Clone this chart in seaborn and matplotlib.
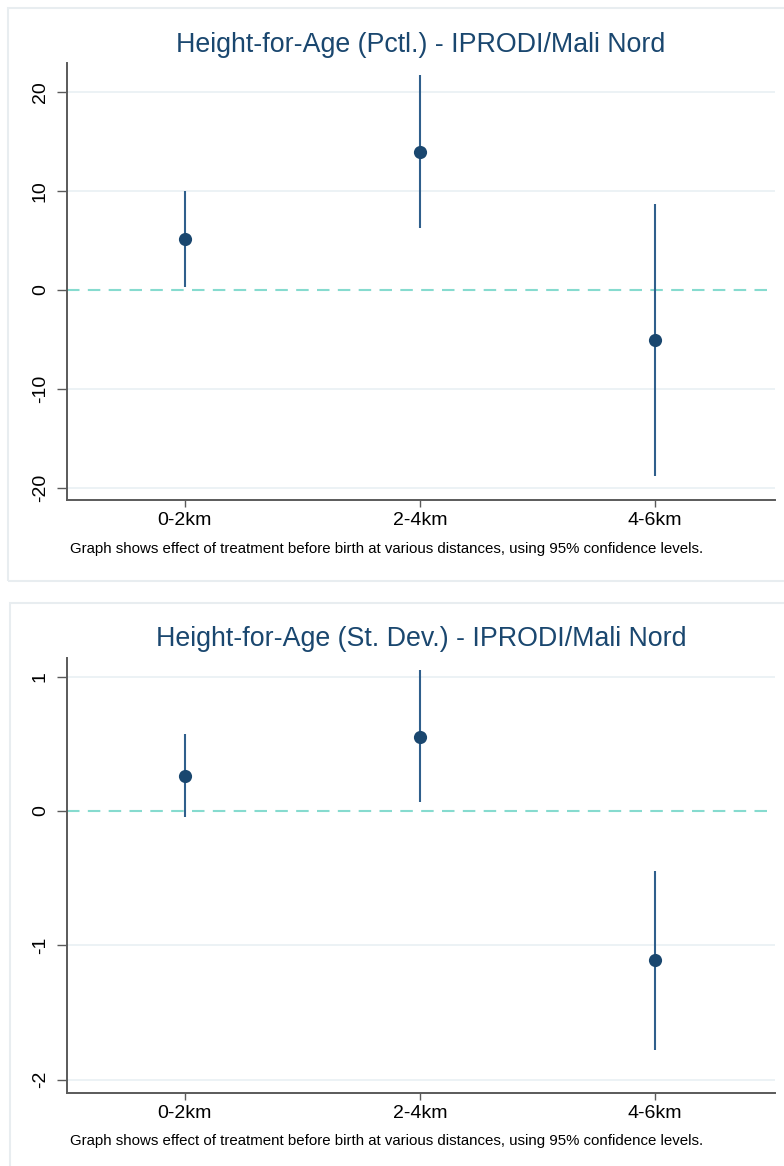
import matplotlib
matplotlib.use("Agg")
import matplotlib.pyplot as plt
import seaborn as sns
import pandas as pd
from matplotlib.patches import Rectangle

# ---- data ----
categories = ["0-2km", "2-4km", "4-6km"]

pctl_est = [5.15, 13.9, -5.05]
pctl_lo = [0.3, 6.2, -18.8]
pctl_hi = [10.0, 21.7, 8.7]

sd_est = [0.26, 0.55, -1.11]
sd_lo = [-0.045, 0.065, -1.78]
sd_hi = [0.575, 1.05, -0.45]

titles = ["Height-for-Age (Pctl.) - IPRODI/Mali Nord",
          "Height-for-Age (St. Dev.) - IPRODI/Mali Nord"]
caption = "Graph shows effect of treatment before birth at various distances, using 95% confidence levels."
pctl_ticks = [-20, -10, 0, 10, 20]
sd_ticks = [-2, -1, 0, 1]

sns.set_theme(style="white")
plt.rcParams['font.family'] = ['Liberation Sans', 'DejaVu Sans']

W, H = 784, 1166
fig = plt.figure(figsize=(W / 100, H / 100), dpi=100)
fig.patch.set_facecolor("white")

NAVY = "#1a476f"
CI_COL = "#2f5f8c"
TEAL = "#86dbcf"
GRID = "#e9f0f4"
SPINE = "#5a5a5a"
BORDER = "#e8edf0"

def px_rect(l, t, r, b):
    return [l / W, 1 - b / H, (r - l) / W, (b - t) / H]

# panel borders
fig.patches.append(Rectangle((8 / W, 1 - 581 / H), (W - 8 + 5) / W, (581 - 8) / H,
                             transform=fig.transFigure, fill=False,
                             edgecolor=BORDER, linewidth=1.5))
fig.patches.append(Rectangle((10 / W, -0.01), (W - 10 + 5) / W, (H - 603) / H + 0.01,
                             transform=fig.transFigure, fill=False,
                             edgecolor=BORDER, linewidth=1.5))

panels = [
    dict(est=pctl_est, lo=pctl_lo, hi=pctl_hi, ticks=pctl_ticks, ylim=(-21.2, 22.9),
         rect=px_rect(67, 63, 775, 500), title=titles[0], title_y=45, cap_y=549),
    dict(est=sd_est, lo=sd_lo, hi=sd_hi, ticks=sd_ticks, ylim=(-2.10, 1.14),
         rect=px_rect(67, 658, 775, 1093), title=titles[1], title_y=639, cap_y=1141),
]

for p in panels:
    df = pd.DataFrame({"cat": categories, "est": p["est"], "lo": p["lo"], "hi": p["hi"]})
    ax = fig.add_axes(p["rect"])
    ax.set_facecolor("white")
    for t in p["ticks"]:
        if t != 0:
            ax.axhline(t, color=GRID, linewidth=1.2, zorder=0)
    ax.axhline(0, color=TEAL, linewidth=1.5, linestyle=(0, (6, 4)), zorder=1)
    sns.scatterplot(data=df, x="cat", y="est", ax=ax, color=NAVY, s=90,
                    edgecolor=NAVY, linewidth=0, zorder=3, legend=False)
    ax.vlines(x=range(len(df)), ymin=df["lo"], ymax=df["hi"], color=CI_COL,
              linewidth=1.5, zorder=2)
    ax.set_xlim(-0.5, 2.51)
    ax.set_ylim(*p["ylim"])
    ax.set_yticks(p["ticks"])
    ax.set_yticklabels([str(t) for t in p["ticks"]], rotation=90, va="center")
    ax.set_xlabel("")
    ax.set_ylabel("")
    for s in ["top", "right"]:
        ax.spines[s].set_visible(False)
    for s in ["left", "bottom"]:
        ax.spines[s].set_color(SPINE)
        ax.spines[s].set_linewidth(1.4)
    ax.tick_params(axis="y", which="major", left=True, length=7, width=1, color=SPINE,
                   labelsize=14, pad=6, labelcolor="black")
    ax.tick_params(axis="x", which="major", bottom=True, length=5, width=1, color=SPINE,
                   labelsize=14, pad=4, labelcolor="black")
    ax.grid(False)
    fig.text(421 / W, 1 - p["title_y"] / H, p["title"], ha="center", va="center",
             fontsize=19.3, color=NAVY)
    fig.text(70 / W, 1 - p["cap_y"] / H, caption, ha="left", va="center",
             fontsize=10.8, color="black")

fig.savefig("out.png", dpi=100, facecolor="white")
